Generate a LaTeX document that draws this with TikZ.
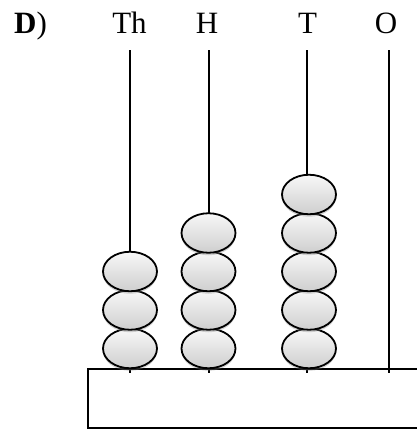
\documentclass[tikz,border=0pt]{standalone}
\usepackage{fontspec}
\setmainfont{Liberation Serif}
\usetikzlibrary{shapes.geometric,shadows}
\begin{document}
\begin{tikzpicture}[x=1pt,y=-1pt,
  lbl/.style={inner sep=0pt,anchor=base,font=\fontsize{31}{37}\selectfont},
  rod/.style={line width=1.4pt,black},
  bead/.style={ellipse,draw=black,line width=1.8pt,minimum width=54pt,minimum height=39.5pt,inner sep=0pt,
    top color=gray!6,bottom color=gray!38,
    drop shadow={opacity=0.35,shadow xshift=0pt,shadow yshift=-2.5pt}},
  basebox/.style={draw=black,line width=2pt}]
\useasboundingbox (0,0) rectangle (417,429);
% labels
\node[lbl,anchor=base west] (d) at (14,33) {\textbf{D})};
\node[lbl] (th) at (129.5,33) {Th};
\node[lbl] (h) at (207,33) {H};
\node[lbl] (t) at (307.5,33) {T};
\node[lbl] (o) at (386,33) {O};
% rod ends
\foreach \n/\x in {a/130,b/209,c/307,e/389}{
  \coordinate (\n top) at (\x,50);
  \coordinate (\n bot) at (\x,373);
  \draw[rod] (\n top) -- (\n bot);
}
% base box
\draw[basebox] (88,369) rectangle (430,427.5);
% beads
\foreach \i in {0,1,2}{\node[bead] (th\i) at (130,348.5-38.5*\i) {};}
\foreach \i in {0,1,2,3}{\node[bead] (h\i) at (208.5,348.5-38.5*\i) {};}
\foreach \i in {0,1,2,3,4}{\node[bead] (t\i) at (309,348.5-38.5*\i) {};}
\end{tikzpicture}
\end{document}
